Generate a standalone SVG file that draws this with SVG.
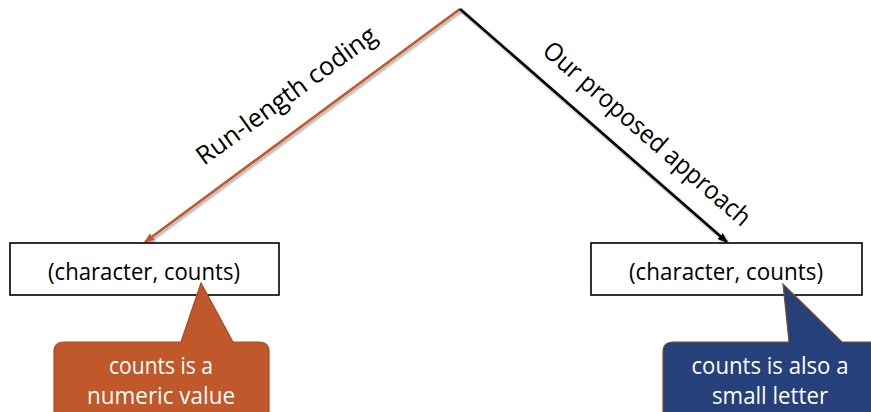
<svg xmlns="http://www.w3.org/2000/svg" width="871" height="412" viewBox="0 0 871 412">
<defs>
<style>
text{font-family:"Open Sans","Noto Sans","Liberation Sans",sans-serif;}
.box{fill:#fff;stroke:#000;stroke-width:1.6;}
.btxt{font-size:23px;fill:#000;text-anchor:middle;}
.lbl{font-size:25.5px;fill:#000;}
.ctxt{font-size:23.5px;fill:#fff;text-anchor:middle;}
</style>
<filter id="sh" x="-10%" y="-10%" width="120%" height="120%">
<feDropShadow dx="1.5" dy="2" stdDeviation="1.2" flood-color="#000" flood-opacity="0.35"/>
</filter>
<marker id="ao" markerWidth="10" markerHeight="8" refX="9" refY="4" orient="auto" markerUnits="userSpaceOnUse">
<path d="M0,0 L10,4 L0,8 Z" fill="#C0582B"/>
</marker>
<marker id="ak" markerWidth="10" markerHeight="8" refX="9" refY="4" orient="auto" markerUnits="userSpaceOnUse">
<path d="M0,0 L10,4 L0,8 Z" fill="#000"/>
</marker>
</defs>
<rect width="871" height="412" fill="#fff"/>
<g id="connectors">
<line x1="460" y1="9" x2="145" y2="242" stroke="#C0582B" stroke-width="2.6" marker-end="url(#ao)" filter="url(#sh)"/>
<line x1="460" y1="9" x2="727" y2="242" stroke="#000" stroke-width="2.6" marker-end="url(#ak)" filter="url(#sh)"/>
<text class="lbl" x="204" y="166" transform="rotate(-36 204 166)" textLength="216" lengthAdjust="spacingAndGlyphs">Run-length coding</text>
<text class="lbl" x="541" y="53" transform="rotate(41 541 53)" textLength="266" lengthAdjust="spacingAndGlyphs">Our proposed approach</text>
</g>
<g id="box-left">
<rect class="box" x="10" y="243" width="269" height="52"/>
<text class="btxt" x="144" y="280" textLength="192" lengthAdjust="spacingAndGlyphs">(character, counts)</text>
</g>
<g id="box-right">
<rect class="box" x="591" y="243" width="271" height="52"/>
<text class="btxt" x="726" y="280" textLength="194" lengthAdjust="spacingAndGlyphs">(character, counts)</text>
</g>
<g id="callout-left">
<path d="M64,342 L181,342 L201,283 L233,342 L259,342 Q269,342 269,352 L269,420 L54,420 L54,352 Q54,342 64,342 Z" fill="#C0582B" stroke="#A9481E" stroke-width="1.2"/>
<text class="ctxt" x="161" y="374" textLength="104" lengthAdjust="spacingAndGlyphs">counts is a</text>
<text class="ctxt" x="161" y="404" textLength="148" lengthAdjust="spacingAndGlyphs">numeric value</text>
</g>
<g id="callout-right">
<path d="M673,342 L789,342 L783,284 L842,342 L870,342 Q880,342 880,352 L880,420 L663,420 L663,352 Q663,342 673,342 Z" fill="#25407A" stroke="#8A4A22" stroke-width="1.2"/>
<text class="ctxt" x="770" y="374" textLength="157" lengthAdjust="spacingAndGlyphs">counts is also a</text>
<text class="ctxt" x="770" y="404" textLength="116" lengthAdjust="spacingAndGlyphs">small letter</text>
</g>
</svg>
